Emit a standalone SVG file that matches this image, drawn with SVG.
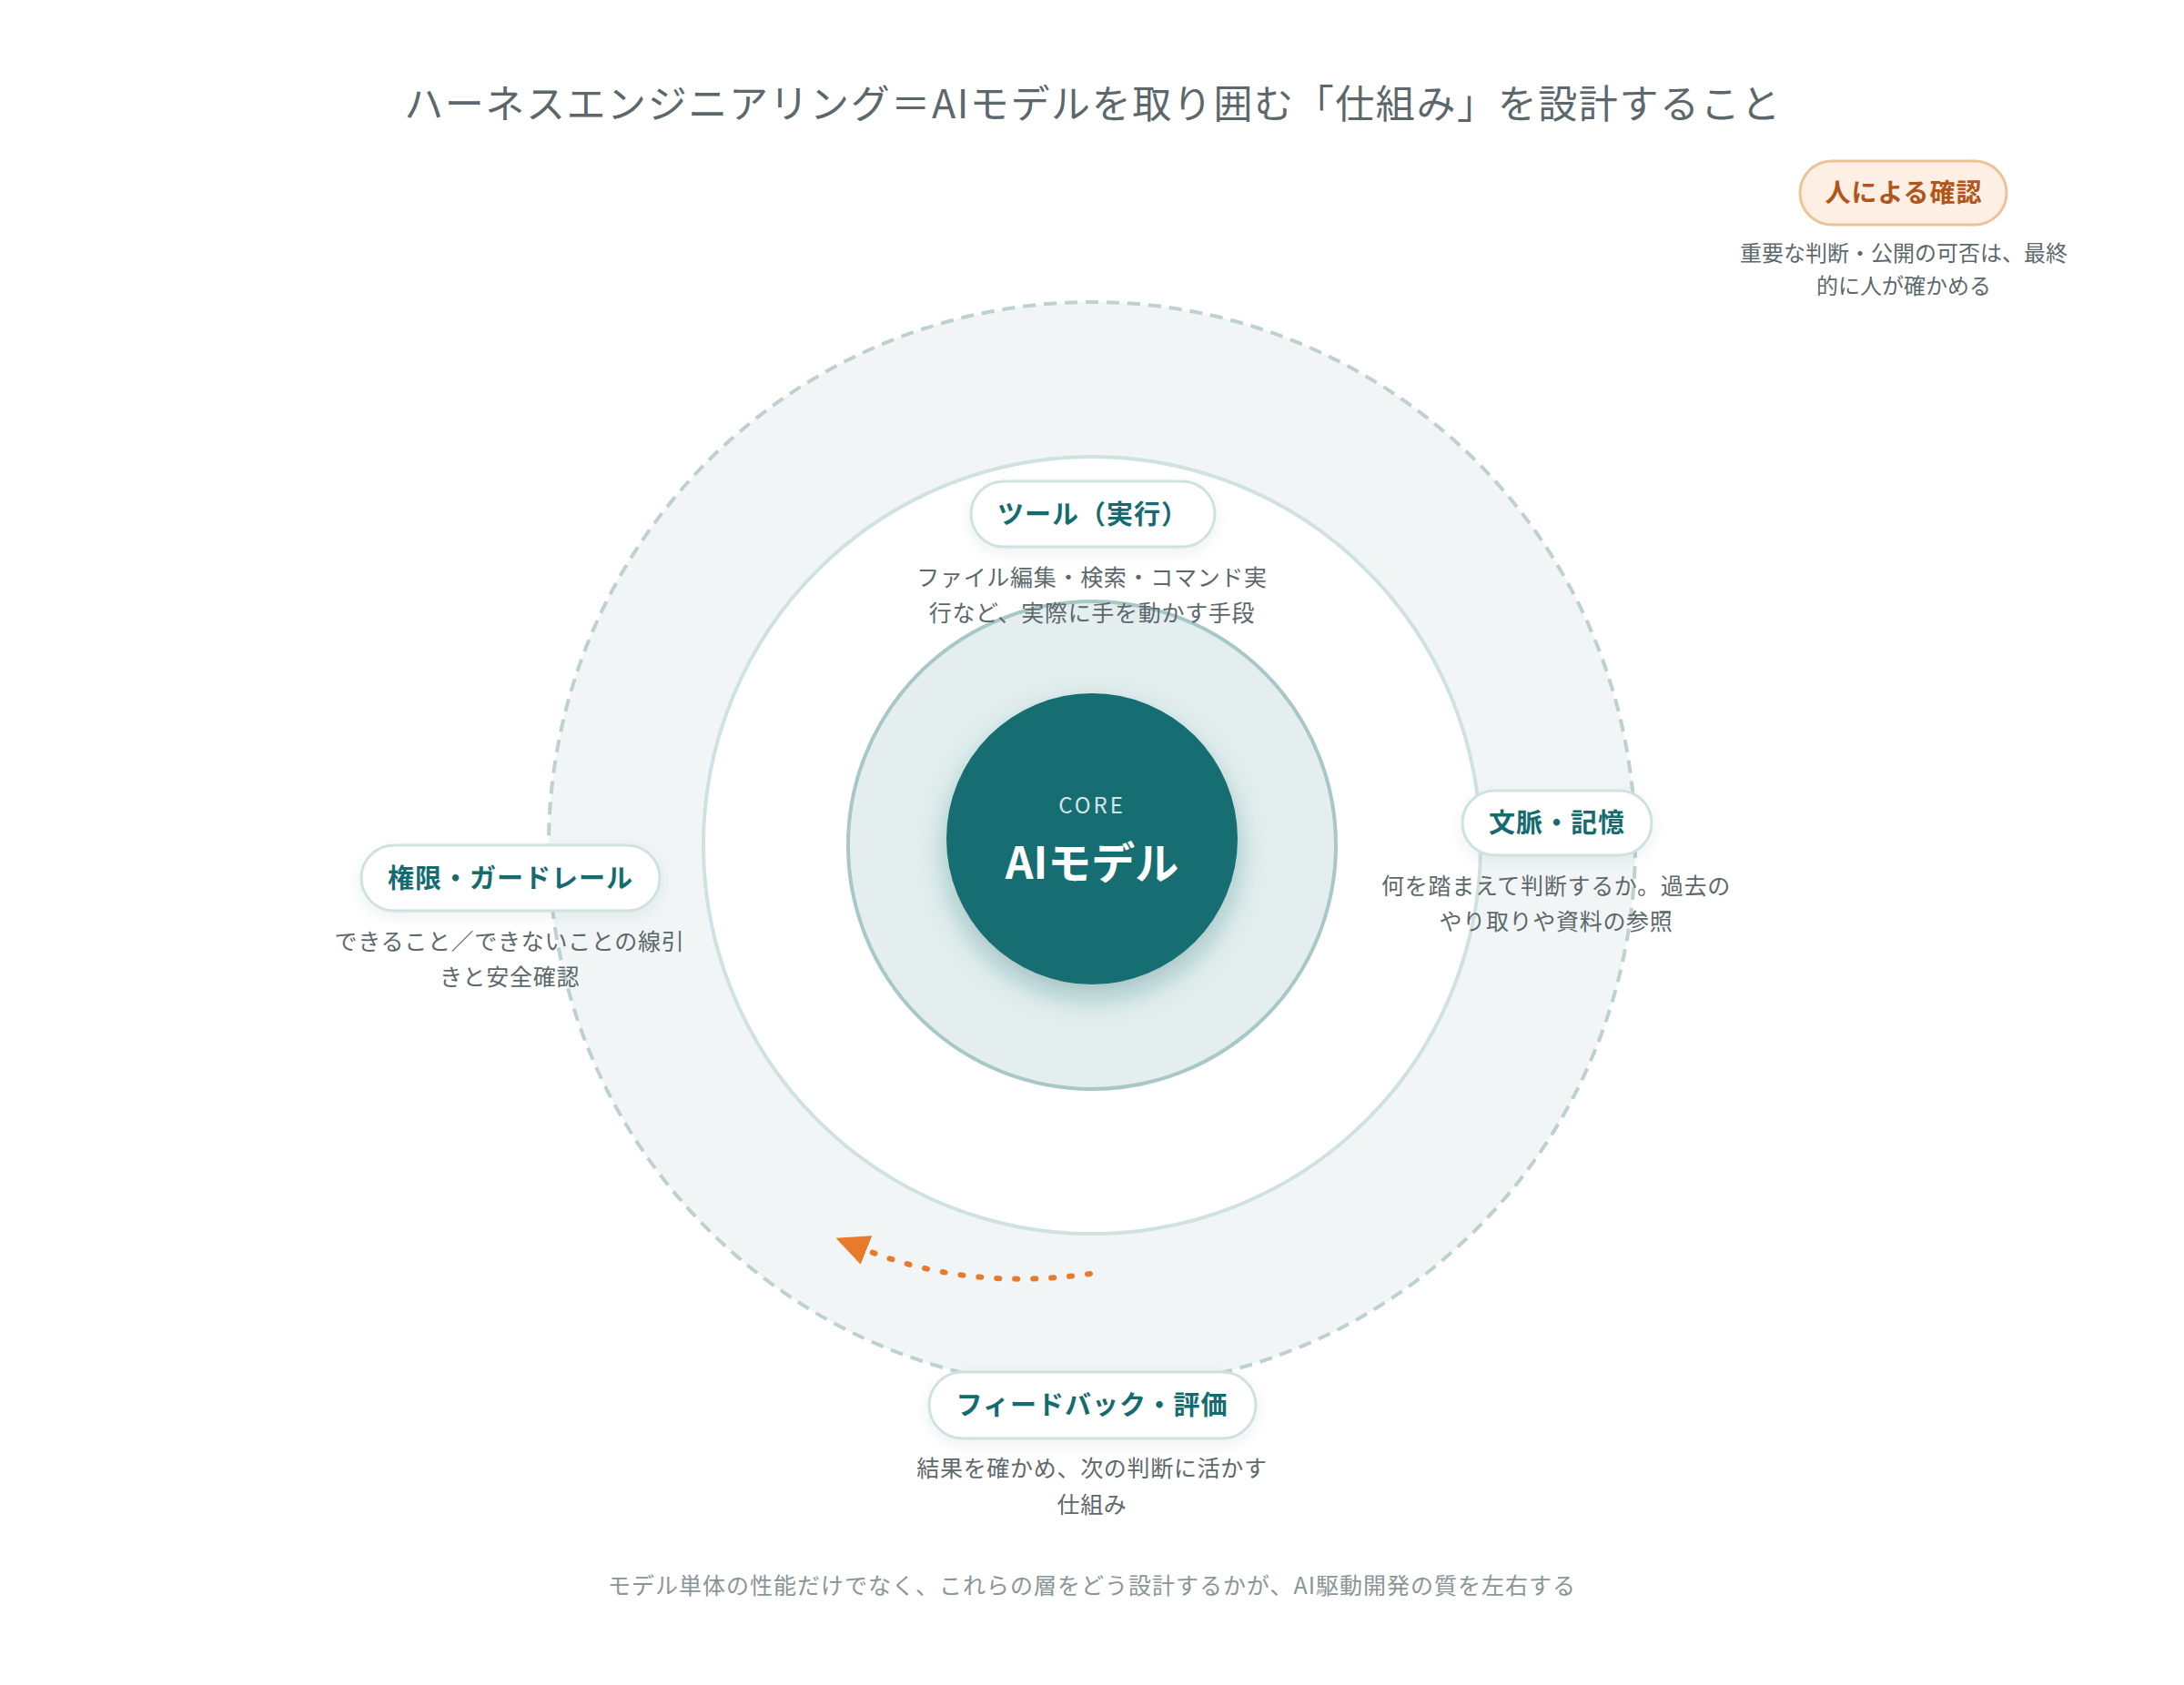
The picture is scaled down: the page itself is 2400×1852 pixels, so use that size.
<svg xmlns="http://www.w3.org/2000/svg" width="2400" height="1852" viewBox="0 0 2400 1852">
  <defs>
    <style>
      .jp { font-family: "Noto Sans CJK JP", "Noto Sans", sans-serif; }
      .title { font-size: 43px; fill: #5c676b; letter-spacing: 1.6px; text-anchor: middle; }
      .pill { fill: #ffffff; stroke: #cfe1e1; stroke-width: 3; }
      .pilltext { font-size: 29px; font-weight: 700; fill: #146b70; letter-spacing: 1px; text-anchor: middle; }
      .desc { font-size: 25px; fill: #5d686c; letter-spacing: 0.7px; text-anchor: middle; }
      .desc-s { font-size: 24px; fill: #5d686c; letter-spacing: 0px; text-anchor: middle; }
      .footer { font-size: 25px; fill: #8a9598; letter-spacing: 1px; text-anchor: middle; }
    </style>
    <filter id="coreShadow" x="-40%" y="-40%" width="180%" height="190%">
      <feDropShadow dx="0" dy="14" stdDeviation="16" flood-color="#1d6d72" flood-opacity="0.35"/>
    </filter>
    <filter id="pillShadow" x="-20%" y="-40%" width="140%" height="200%">
      <feDropShadow dx="0" dy="5" stdDeviation="7" flood-color="#2b5e62" flood-opacity="0.09"/>
    </filter>
    <marker id="arrowHead" markerUnits="userSpaceOnUse" markerWidth="36" markerHeight="34" viewBox="0 0 36 34" refX="0" refY="17" orient="auto">
      <path d="M0,0 L36,17 L0,34 z" fill="#e87a2c"/>
    </marker>
  </defs>

  <rect x="0" y="0" width="2400" height="1852" fill="#ffffff"/>

  <g id="title">
    <text class="jp title" x="1201" y="130">ハーネスエンジニアリング＝AIモデルを取り囲む「仕組み」を設計すること</text>
  </g>

  <g id="rings">
    <circle id="outer-ring" cx="1200" cy="929" r="597" fill="#f1f5f5" stroke="#bcd1d0" stroke-width="4" stroke-dasharray="14 9"/>
    <circle id="middle-ring" cx="1200" cy="929" r="427" fill="#ffffff" stroke="#cfe2e1" stroke-width="4"/>
    <circle id="inner-ring" cx="1200" cy="929" r="268" fill="#e4eeee" stroke="#a7c8c6" stroke-width="4"/>
  </g>

  <g id="connectors">
    <path d="M1198,1400 Q1065,1419 952,1374" fill="none" stroke="#e87a2c" stroke-width="6" stroke-linecap="round" stroke-dasharray="3 17" marker-end="url(#arrowHead)"/>
  </g>

  <g id="core">
    <circle cx="1200" cy="922" r="160" fill="#166e73" filter="url(#coreShadow)"/>
    <text class="jp" x="1200" y="894" font-size="24" fill="#d3e6e6" letter-spacing="3" text-anchor="middle">CORE</text>
    <text class="jp" x="1200" y="966" font-size="48" font-weight="700" fill="#ffffff" text-anchor="middle">AIモデル</text>
  </g>

  <g id="tools">
    <rect class="pill" x="1067" y="529" width="268" height="72" rx="36" filter="url(#pillShadow)"/>
    <text class="jp pilltext" x="1201" y="576">ツール（実行）</text>
    <text class="jp desc" x="1200" y="644">ファイル編集・検索・コマンド実</text>
    <text class="jp desc" x="1200" y="683">行など、実際に手を動かす手段</text>
  </g>

  <g id="context">
    <rect class="pill" x="1607" y="869" width="208" height="71" rx="35.5" filter="url(#pillShadow)"/>
    <text class="jp pilltext" x="1711" y="915">文脈・記憶</text>
    <text class="jp desc" x="1710" y="983">何を踏まえて判断するか。過去の</text>
    <text class="jp desc" x="1710" y="1022">やり取りや資料の参照</text>
  </g>

  <g id="guardrails">
    <rect class="pill" x="397" y="929" width="328" height="72" rx="36" filter="url(#pillShadow)"/>
    <text class="jp pilltext" x="561" y="976">権限・ガードレール</text>
    <text class="jp desc" x="560" y="1044">できること／できないことの線引</text>
    <text class="jp desc" x="560" y="1083">きと安全確認</text>
  </g>

  <g id="feedback">
    <rect class="pill" x="1021" y="1508" width="359" height="73" rx="36.5" filter="url(#pillShadow)"/>
    <text class="jp pilltext" x="1200" y="1555">フィードバック・評価</text>
    <text class="jp desc" x="1200" y="1623">結果を確かめ、次の判断に活かす</text>
    <text class="jp desc" x="1200" y="1663">仕組み</text>
  </g>

  <g id="human">
    <rect x="1978" y="177" width="227" height="70" rx="35" fill="#fdefe4" stroke="#ecc397" stroke-width="3"/>
    <text class="jp" x="2092" y="222" font-size="28" font-weight="700" fill="#b0561b" letter-spacing="1" text-anchor="middle">人による確認</text>
    <text class="jp desc-s" x="2092" y="287">重要な判断・公開の可否は、最終</text>
    <text class="jp desc-s" x="2092" y="323">的に人が確かめる</text>
  </g>

  <g id="footer">
    <text class="jp footer" x="1200" y="1752">モデル単体の性能だけでなく、これらの層をどう設計するかが、AI駆動開発の質を左右する</text>
  </g>
</svg>
